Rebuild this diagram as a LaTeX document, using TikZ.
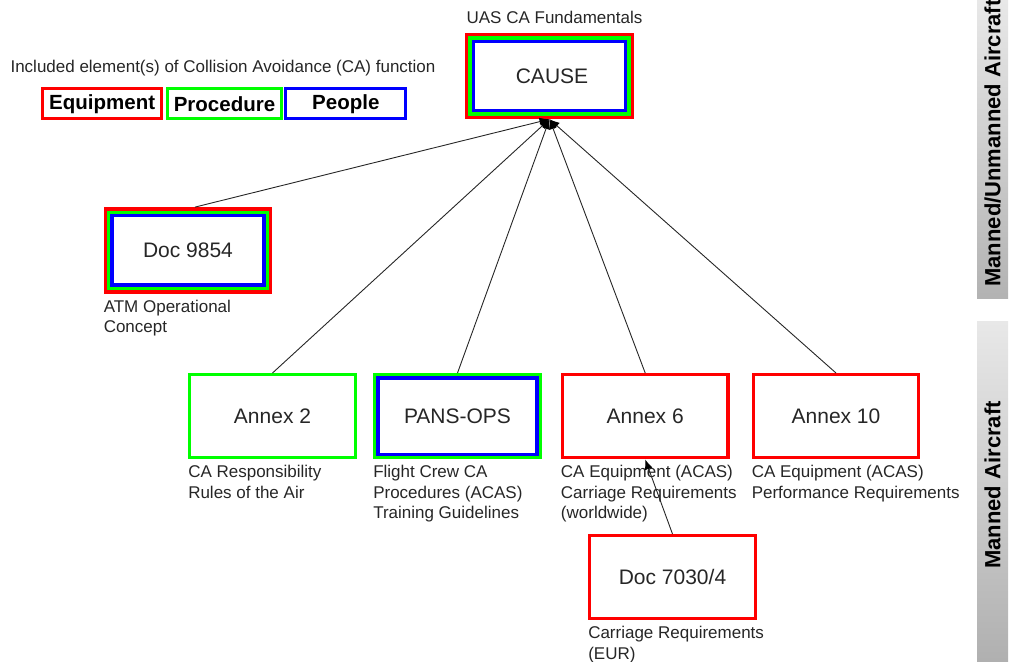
\documentclass[tikz,border=0pt]{standalone}
\usepackage{fontspec}
\setmainfont{Liberation Sans}
\usetikzlibrary{arrows.meta}

% nested coloured frames drawn inside a node, outermost colour first
\newcommand\frames[2]{%
  \foreach \c [count=\i] in {#2} {%
    \pgfmathsetmacro\d{1.7+3.4*(\i-1)}%
    \draw[\c, line width=3.4pt]
      ([shift={(\d pt,-\d pt)}]#1.north west) rectangle
      ([shift={(-\d pt,\d pt)}]#1.south east);
  }%
}

\begin{document}
\begin{tikzpicture}[x=1pt,y=-1pt,
  every node/.style={text=black!85},
  docbox/.style={minimum width=168.5pt, minimum height=86pt, inner sep=0pt,
    font=\fontsize{21}{25}\selectfont},
  note/.style={anchor=north west, inner sep=0pt, align=left,
    font=\fontsize{17}{20.5}\selectfont},
  caption/.style={inner sep=0pt, font=\fontsize{17}{20.5}\selectfont},
  key/.style={draw, line width=3pt, minimum height=29.7pt, inner sep=0pt,
    text=black, font=\bfseries\fontsize{20.5}{25}\selectfont},
  link/.style={draw=black!85, line width=0.9pt,
    -{Latex[length=10pt,width=8pt,black]}},
  bandtext/.style={rotate=90, inner sep=0pt, text=black,
    font=\bfseries\fontsize{22}{26}\selectfont}
]
\useasboundingbox (0,0) rectangle (1011,661);

% side bands
\shade[top color=black!9, bottom color=black!30] (977,0) rectangle (1008,298);
\shade[top color=black!9, bottom color=black!31] (977,321) rectangle (1008,661);
\node[bandtext] (bandA) at (992.5,143) {Manned/Unmanned Aircraft};
\node[bandtext] (bandB) at (992.5,485) {Manned Aircraft};

% legend
\node[caption] (legendtitle) at (223,68) {Included element(s) of Collision Avoidance (CA) function};
\node[key, draw=red,   minimum width=119.3pt] (kequip) at (102.2,103.7) {Equipment};
\node[key, draw=green, minimum width=114.6pt] (kproc)  at (224.5,103.7) {Procedure};
\node[key, draw=blue,  minimum width=120pt]   (kpeople) at (345.8,103.7) {People};

% documents
\node[docbox] (cause)   at (549.5,76)    {\hspace*{5pt}CAUSE};
\node[docbox] (doc)     at (188,250.3)   {Doc 9854};
\node[docbox] (annexb)  at (272.5,416.2) {Annex 2};
\node[docbox] (pans)    at (457.5,416.2) {PANS-OPS};
\node[docbox] (annexf)  at (645.2,416.2) {Annex 6};
\node[docbox] (annexj)  at (836,416.2)   {Annex 10};
\node[docbox] (doceur)  at (672.5,577.2) {Doc 7030/4};

\frames{cause}{red,green,blue}
\frames{doc}{red,green,blue}
\frames{annexb}{green}
\frames{pans}{green,blue}
\frames{annexf}{red}
\frames{annexj}{red}
\frames{doceur}{red}

% captions
\node[caption, anchor=base] (causetitle) at ([xshift=5pt,yshift=9pt]cause.north) {UAS CA Fundamentals};
\node[note] (docnote)    at ([yshift=-6pt]doc.south west)    {ATM Operational\\Concept};
\node[note] (annexbnote) at ([yshift=-6pt]annexb.south west) {CA Responsibility\\Rules of the Air};
\node[note] (pansnote)   at ([yshift=-6pt]pans.south west)   {Flight Crew CA\\Procedures (ACAS)\\Training Guidelines};
\node[note] (annexfnote) at ([yshift=-6pt]annexf.south west) {CA Equipment (ACAS)\\Carriage Requirements\\(worldwide)};
\node[note] (annexjnote) at ([yshift=-6pt]annexj.south west) {CA Equipment (ACAS)\\Performance Requirements};
\node[note] (doceurnote) at ([yshift=-6pt]doceur.south west) {Carriage Requirements\\(EUR)};

% links
\draw[link] ([xshift=7pt]doc.north) -- (cause.south);
\draw[link] (annexb.north) -- (cause.south);
\draw[link] (pans.north)   -- (cause.south);
\draw[link] (annexf.north) -- (cause.south);
\draw[link] (annexj.north) -- (cause.south);
\draw[link] (doceur.north) -- (annexf.south);
\end{tikzpicture}
\end{document}
